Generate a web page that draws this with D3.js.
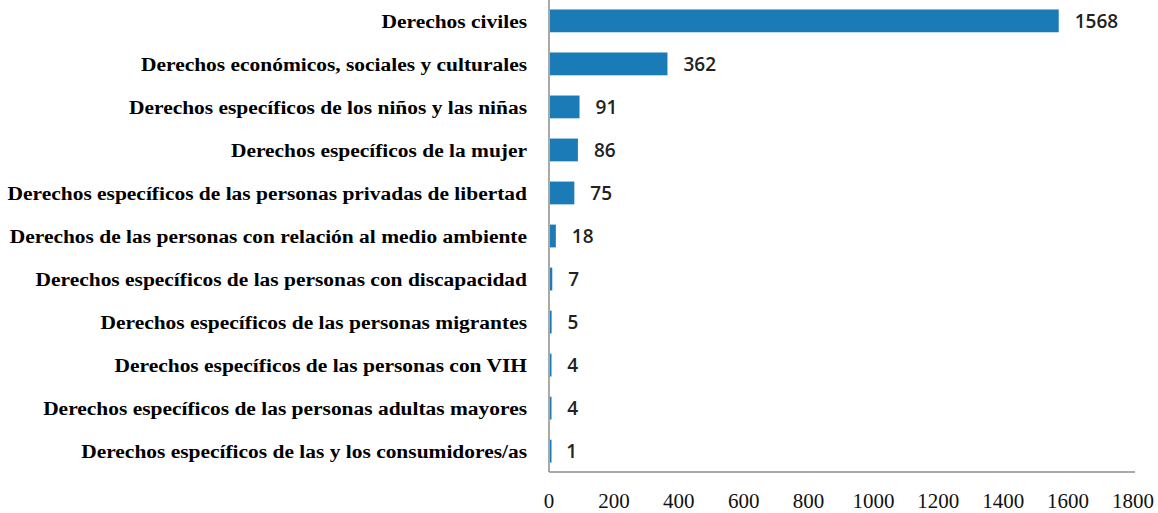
<!DOCTYPE html>
<html><head><meta charset="utf-8">
<script src="https://cdn.jsdelivr.net/npm/d3@7"></script>
<style>body{margin:0;background:#fff}</style>
</head><body>
<svg id="c" width="1158" height="513"></svg>
<script>
const categories = [
  "Derechos civiles",
  "Derechos económicos, sociales y culturales",
  "Derechos específicos de los niños y las niñas",
  "Derechos específicos de la mujer",
  "Derechos específicos de las personas privadas de libertad",
  "Derechos de las personas con relación al medio ambiente",
  "Derechos específicos de las personas con discapacidad",
  "Derechos específicos de las personas migrantes",
  "Derechos específicos de las personas con VIH",
  "Derechos específicos de las personas adultas mayores",
  "Derechos específicos de las y los consumidores/as"
];
const values = [1568, 362, 91, 86, 75, 18, 7, 5, 4, 4, 1];
const xTicks = [0, 200, 400, 600, 800, 1000, 1200, 1400, 1600, 1800];

const svg = d3.select("#c");
const x0 = 549, x1 = 1133, yTop = 0, yBot = 472;
const x = d3.scaleLinear().domain([0, 1800]).range([x0, x1]);
const y = d3.scaleBand().domain(categories).range([yTop, yBot]).paddingInner(0.47).paddingOuter(0.22);

svg.selectAll("rect.bar").data(values).join("rect")
  .attr("class", "bar")
  .attr("x", x(0) + 1)
  .attr("y", (d, i) => y(categories[i]))
  .attr("width", d => Math.max(x(d) - x(0), 1.5))
  .attr("height", y.bandwidth())
  .attr("fill", "#1b7bb6");

// axes lines
svg.append("line").attr("x1", x0).attr("x2", x0).attr("y1", yTop).attr("y2", yBot)
  .attr("stroke", "#8c8c8c").attr("stroke-width", 1.5);
svg.append("line").attr("x1", x0).attr("x2", x1 + 2).attr("y1", yBot).attr("y2", yBot)
  .attr("stroke", "#8c8c8c").attr("stroke-width", 1.5);

// category labels
svg.selectAll("text.cat").data(categories).join("text")
  .attr("class", "cat")
  .attr("transform", d => `translate(527,${y(d) + y.bandwidth() / 2}) scale(1.1,1)`)
  .attr("dy", "0.35em")
  .attr("text-anchor", "end")
  .attr("font-family", "'Liberation Serif', 'Times New Roman', serif")
  .attr("font-weight", "bold")
  .attr("font-size", 19.5)
  .attr("fill", "#000")
  .text(d => d);

// value labels
svg.selectAll("text.val").data(values).join("text")
  .attr("class", "val")
  .attr("x", d => x(d) + 17)
  .attr("y", (d, i) => y(categories[i]) + y.bandwidth() / 2)
  .attr("dy", "0.37em")
  .attr("font-family", "'Open Sans', 'DejaVu Sans', sans-serif")
  .attr("font-weight", "600")
  .attr("font-size", 19)
  .attr("fill", "#222")
  .text(d => d);

// x tick labels
svg.selectAll("text.tick").data(xTicks).join("text")
  .attr("class", "tick")
  .attr("x", d => x(d))
  .attr("y", 508)
  .attr("text-anchor", "middle")
  .attr("font-family", "'Liberation Serif', 'Times New Roman', serif")
  .attr("font-size", 21)
  .attr("fill", "#111")
  .text(d => d);
</script>
</body></html>
